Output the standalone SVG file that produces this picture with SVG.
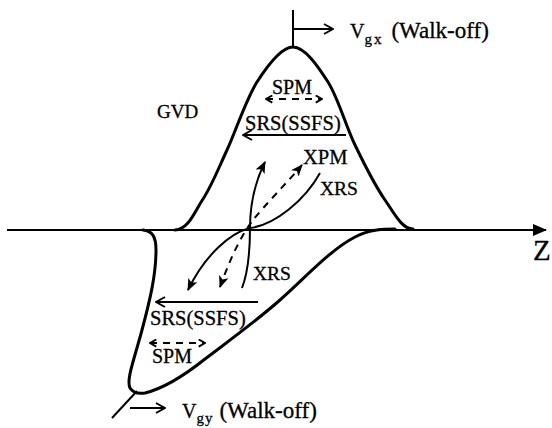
<svg xmlns="http://www.w3.org/2000/svg" width="552" height="428" viewBox="0 0 552 428">
<defs>
<style>
.t{font-family:"Liberation Serif","Times New Roman",serif;fill:#000;stroke:#000;stroke-width:0.3}
.pulse{fill:none;stroke:#000;stroke-width:3;stroke-linecap:round;stroke-linejoin:round}
.ln{fill:none;stroke:#000;stroke-width:2}
.dash{fill:none;stroke:#000;stroke-width:2;stroke-dasharray:7,6}
</style>
<marker id="open" viewBox="0 0 12 12" refX="11" refY="6" markerWidth="12" markerHeight="12" markerUnits="userSpaceOnUse" orient="auto-start-reverse">
<path d="M2,1 L11,6 L2,11" fill="none" stroke="#000" stroke-width="2"/>
</marker>
<marker id="small" viewBox="0 0 10 10" refX="9" refY="5" markerWidth="9" markerHeight="9" markerUnits="userSpaceOnUse" orient="auto-start-reverse">
<path d="M2,1 L9,5 L2,9" fill="none" stroke="#000" stroke-width="2"/>
</marker>
<marker id="fill" viewBox="0 0 12 12" refX="11" refY="6" markerWidth="12" markerHeight="12" markerUnits="userSpaceOnUse" orient="auto-start-reverse">
<path d="M0,1 L12,6 L0,11 L3,6 Z" fill="#000"/>
</marker>
<marker id="axisHead" viewBox="0 0 14 12" refX="13" refY="6" markerWidth="14" markerHeight="12" markerUnits="userSpaceOnUse" orient="auto">
<path d="M0,0 L14,6 L0,12 Z" fill="#000"/>
</marker>
</defs>
<rect width="552" height="428" fill="#fff"/>

<g id="axis">
<path class="ln" d="M7,230 H546" marker-end="url(#axisHead)"/>
<text class="t" x="533" y="260" font-size="29">Z</text>
</g>

<g id="pulse-x">
<path class="pulse" d="M175,230 C188,230 194.3,212.3 203,199 C211.7,185.7 218,169.5 227,150 C236,130.5 246,99.2 257,82 C268,64.8 281.2,47 293,47 C304.8,47 317.7,65.7 328,82 C338.3,98.3 345.5,125.3 355,145 C364.5,164.7 375.3,186 385,200 C394.7,214 402,229 413,229"/>
<text class="t" x="157" y="118" font-size="19">GVD</text>
</g>

<g id="pulse-y">
<path class="pulse" d="M143,230 C152,231 156,236 156,250 C156,275 150,300 142,330 C134,360 126,380 130,388 C133,393 138,394 145,393 C165,388 185,375 205,359 C230,340 255,322 280,300 C305,278 330,250 355,237 C370,229 385,229 395,229"/>
</g>

<g id="walkoff-x">
<path class="ln" d="M293,10 V48"/>
<path class="ln" d="M293,29 H333" marker-end="url(#open)"/>
<text class="t" x="350" y="38" font-size="20">V<tspan font-size="15" dy="6" letter-spacing="2">gx</tspan><tspan font-size="23" dy="-6" dx="8">(Walk-off)</tspan></text>
</g>

<g id="walkoff-y">
<path class="ln" d="M112,418 L137,391"/>
<path class="ln" d="M130,408 H165" marker-end="url(#open)"/>
<text class="t" x="182" y="418" font-size="20">V<tspan font-size="15" dy="5" letter-spacing="1">gy</tspan><tspan font-size="23" dy="-5" dx="6">(Walk-off)</tspan></text>
</g>

<g id="labels-x">
<text class="t" x="272" y="94" font-size="20">SPM</text>
<text class="t" x="245" y="130" font-size="20.5">SRS(SSFS)</text>
<text class="t" x="303" y="164" font-size="20.5">XPM</text>
<text class="t" x="320" y="195" font-size="19.5">XRS</text>
</g>

<g id="labels-y">
<text class="t" x="253" y="280" font-size="19.5">XRS</text>
<text class="t" x="150" y="325" font-size="20.5">SRS(SSFS)</text>
<text class="t" x="152" y="363" font-size="20">SPM</text>
</g>

<g id="connectors">
<path class="dash" d="M266,99 H322" marker-start="url(#small)" marker-end="url(#small)"/>
<path class="ln" d="M346,135 H243" marker-end="url(#open)"/>
<path class="ln" d="M258,302 H156" marker-end="url(#open)"/>
<path class="dash" d="M150,343 H205" marker-start="url(#small)" marker-end="url(#small)"/>
<path class="ln" d="M242,288 C247,275 250,255 250,228 C250,205 255,182 265,162" marker-end="url(#fill)"/>
<path class="ln" d="M320,173 C305,200 275,225 250,228 C230,233 205,255 188,290" marker-end="url(#fill)"/>
<path class="dash" d="M220,287 C228,265 238,240 253,220 C265,205 285,185 302,165" marker-start="url(#fill)" marker-end="url(#fill)"/>
</g>
</svg>
